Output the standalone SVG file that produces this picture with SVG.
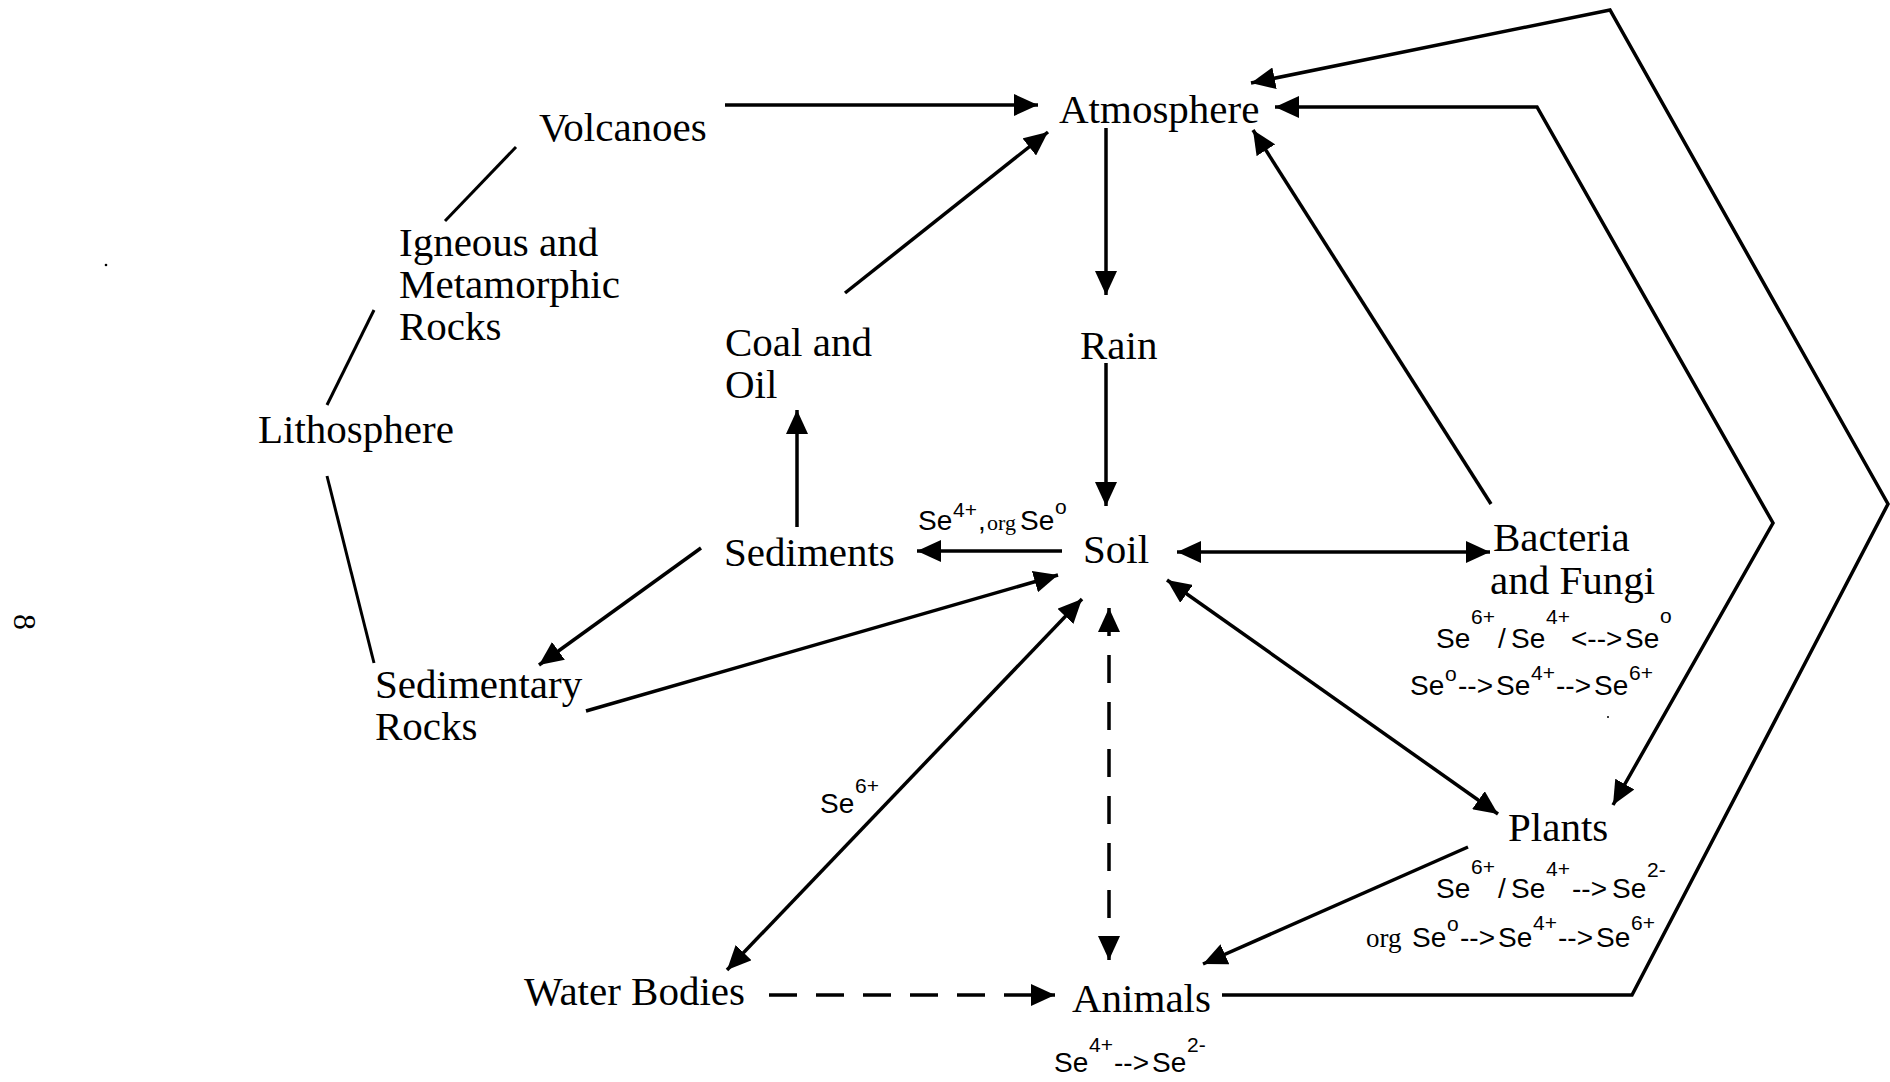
<svg xmlns="http://www.w3.org/2000/svg" width="1890" height="1082" viewBox="0 0 1890 1082">
<style>
.n{font-family:"Liberation Serif","Times New Roman",serif;font-size:41px;fill:#000}
.se{font-family:"Liberation Sans",Arial,sans-serif;font-size:28px;fill:#000}
.sup{font-size:21px}
.org{font-family:"Liberation Serif","Times New Roman",serif;font-size:27px}
.org2{font-family:"Liberation Serif","Times New Roman",serif;font-size:22px}
.c{fill:none;stroke:#000;stroke-width:3.5;stroke-linejoin:miter}
.t{fill:none;stroke:#000;stroke-width:3}
.d{stroke-dasharray:28 19}
.e{marker-end:url(#ah)}
.b{marker-start:url(#ah);marker-end:url(#ah)}
</style>
<defs>
<marker id="ah" viewBox="0 0 24 22" refX="24" refY="11" markerWidth="24" markerHeight="22" markerUnits="userSpaceOnUse" orient="auto-start-reverse">
<path d="M0,0 L24,11 L0,22 z" fill="#000"/>
</marker>
</defs>
<rect width="1890" height="1082" fill="#fff"/>

<g id="connectors">
<line class="c e" x1="725" y1="105" x2="1038" y2="105"/>
<line class="t" x1="516" y1="147" x2="445" y2="221"/>
<line class="t" x1="374" y1="310" x2="327" y2="405"/>
<line class="t" x1="327" y1="476" x2="374" y2="663"/>
<line class="c e" x1="701" y1="548" x2="539" y2="665"/>
<line class="c e" x1="586" y1="711" x2="1058" y2="575"/>
<line class="c e" x1="797" y1="527" x2="797" y2="410"/>
<line class="c e" x1="845" y1="293" x2="1048" y2="132"/>
<line class="c e" x1="1106" y1="128" x2="1106" y2="295"/>
<line class="c e" x1="1106" y1="363" x2="1106" y2="506"/>
<line class="c e" x1="1062" y1="551" x2="917" y2="551"/>
<line class="c b" x1="1177" y1="552" x2="1490" y2="552"/>
<line class="c e" x1="1491" y1="504" x2="1253" y2="130"/>
<line class="c b" x1="1167" y1="580" x2="1498" y2="814"/>
<line class="c b" x1="1082" y1="599" x2="727" y2="970"/>
<line class="c b d" x1="1109" y1="608" x2="1109" y2="960"/>
<line class="c e d" x1="769" y1="995" x2="1055" y2="995"/>
<line class="c e" x1="1468" y1="847" x2="1203" y2="964"/>
<polyline class="c e" points="1222,995 1632,995 1888,504 1610,10 1251,83"/>
<polyline class="c b" points="1275,107 1537,107 1773,523 1613,805"/>
</g>

<g id="volcanoes"><text class="n" x="539" y="141">Volcanoes</text></g>
<g id="atmosphere"><text class="n" x="1059" y="123">Atmosphere</text></g>
<g id="igneous"><text class="n"><tspan x="399" y="256">Igneous and</tspan><tspan x="399" y="298">Metamorphic</tspan><tspan x="399" y="340">Rocks</tspan></text></g>
<g id="coal"><text class="n"><tspan x="725" y="356">Coal and</tspan><tspan x="725" y="398">Oil</tspan></text></g>
<g id="rain"><text class="n" x="1080" y="359">Rain</text></g>
<g id="lithosphere"><text class="n" x="258" y="443">Lithosphere</text></g>
<g id="sediments"><text class="n" x="724" y="566">Sediments</text></g>
<g id="soil"><text class="n" x="1083" y="563">Soil</text></g>
<g id="bacteria">
<text class="n"><tspan x="1493" y="551">Bacteria</tspan><tspan x="1490" y="594">and Fungi</tspan></text>
<text class="se"><tspan x="1436" y="648">Se</tspan><tspan class="sup" x="1471" y="624">6+</tspan><tspan x="1498" y="648">/</tspan><tspan x="1511" y="648">Se</tspan><tspan class="sup" x="1546" y="624">4+</tspan><tspan x="1571" y="648">&lt;--&gt;</tspan><tspan x="1625" y="648">Se</tspan><tspan class="sup" x="1660" y="623">o</tspan></text>
<text class="se"><tspan x="1410" y="695">Se</tspan><tspan class="sup" x="1445" y="681">o</tspan><tspan x="1458" y="695">--&gt;</tspan><tspan x="1496" y="695">Se</tspan><tspan class="sup" x="1531" y="680">4+</tspan><tspan x="1556" y="695">--&gt;</tspan><tspan x="1594" y="695">Se</tspan><tspan class="sup" x="1629" y="680">6+</tspan></text>
</g>
<g id="sedimentary"><text class="n"><tspan x="375" y="698">Sedimentary</tspan><tspan x="375" y="740">Rocks</tspan></text></g>
<g id="plants">
<text class="n" x="1508" y="841">Plants</text>
<text class="se"><tspan x="1436" y="898">Se</tspan><tspan class="sup" x="1471" y="874">6+</tspan><tspan x="1498" y="898">/</tspan><tspan x="1511" y="898">Se</tspan><tspan class="sup" x="1546" y="876">4+</tspan><tspan x="1572" y="898">--&gt;</tspan><tspan x="1612" y="898">Se</tspan><tspan class="sup" x="1647" y="877">2-</tspan></text>
<text class="se"><tspan class="org" x="1366" y="947">org</tspan><tspan x="1412" y="947">Se</tspan><tspan class="sup" x="1447" y="931">o</tspan><tspan x="1460" y="947">--&gt;</tspan><tspan x="1498" y="947">Se</tspan><tspan class="sup" x="1533" y="930">4+</tspan><tspan x="1558" y="947">--&gt;</tspan><tspan x="1596" y="947">Se</tspan><tspan class="sup" x="1631" y="930">6+</tspan></text>
</g>
<g id="water"><text class="n" x="524" y="1005">Water Bodies</text></g>
<g id="animals">
<text class="n" x="1072" y="1012">Animals</text>
<text class="se"><tspan x="1054" y="1072">Se</tspan><tspan class="sup" x="1089" y="1052">4+</tspan><tspan x="1114" y="1072">--&gt;</tspan><tspan x="1152" y="1072">Se</tspan><tspan class="sup" x="1187" y="1052">2-</tspan></text>
</g>
<g id="labels">
<text class="se"><tspan x="918" y="530">Se</tspan><tspan class="sup" x="953" y="517">4+</tspan><tspan x="978" y="530">,</tspan><tspan class="org2" x="987" y="530">org</tspan><tspan x="1020" y="530">Se</tspan><tspan class="sup" x="1055" y="514">o</tspan></text>
<text class="se"><tspan x="820" y="813">Se</tspan><tspan class="sup" x="855" y="793">6+</tspan></text>
</g>
<g id="page-number"><text class="n" style="font-size:32px" x="0" y="11" text-anchor="middle" transform="translate(25,622) rotate(90)">8</text></g>
<g id="specks" fill="#000"><circle cx="106" cy="265" r="1.3"/><circle cx="1608" cy="717" r="1"/></g>
</svg>
